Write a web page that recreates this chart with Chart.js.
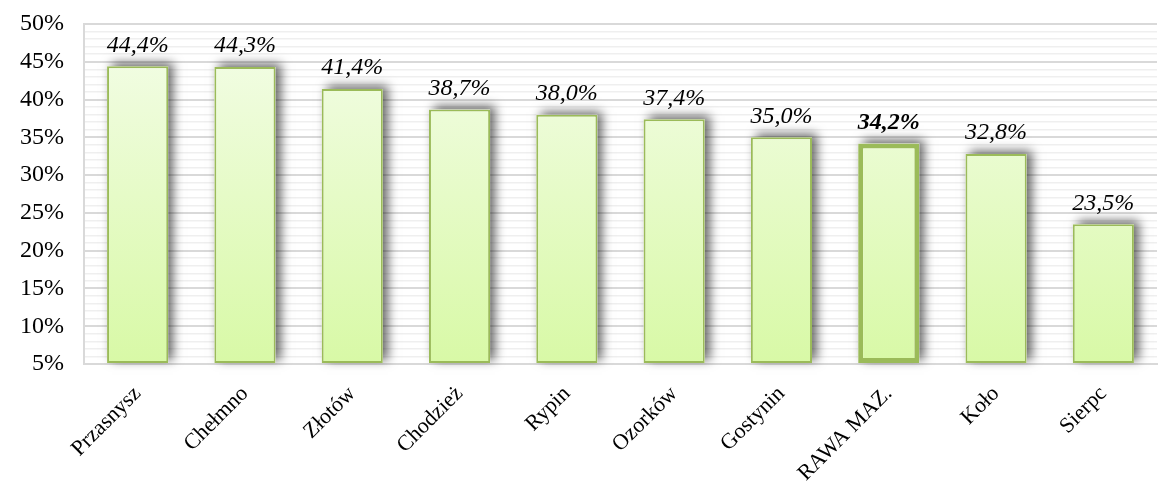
<!DOCTYPE html>
<html>
<head>
<meta charset="utf-8">
<script src="https://cdn.jsdelivr.net/npm/chart.js@4.4.0/dist/chart.umd.min.js"></script>
<style>
  html, body { margin: 0; padding: 0; background: #fff; }
  #wrap { width: 1160px; height: 481px; }
</style>
</head>
<body>
<div id="wrap"><canvas id="myChart"></canvas></div>
<script>
const miasta = ["Przasnysz", "Chełmno", "Złotów", "Chodzież", "Rypin", "Ozorków", "Gostynin", "RAWA MAZ.", "Koło", "Sierpc"];
const udzial = [44.4, 44.3, 41.4, 38.7, 38.0, 37.4, 35.0, 34.2, 32.8, 23.5];
const wyrozniony = "RAWA MAZ.";

const font = "'Liberation Serif', 'DejaVu Serif', serif";

function fmt(v) {
  return v.toFixed(1).replace(".", ",") + "%";
}

// cień pod słupkami - rysowany osobno, zanim pojawią się same słupki
const cien = {
  id: "cien",
  beforeDatasetsDraw(chart) {
    const ctx = chart.ctx;
    const meta = chart.getDatasetMeta(0);
    ctx.save();
    ctx.shadowColor = "rgba(0,0,0,0.6)";
    ctx.shadowBlur = 10;
    ctx.shadowOffsetX = 5;
    ctx.shadowOffsetY = -3;
    ctx.fillStyle = "#fff";
    meta.data.forEach((bar) => {
      const w = bar.width;
      ctx.fillRect(bar.x - w / 2, bar.y, w, bar.base - bar.y);
    });
    ctx.restore();
  },
};

// etykiety nad słupkami
const etykiety = {
  id: "etykiety",
  afterDatasetsDraw(chart) {
    const ctx = chart.ctx;
    const meta = chart.getDatasetMeta(0);
    ctx.save();
    ctx.fillStyle = "#000";
    ctx.textAlign = "center";
    ctx.textBaseline = "bottom";
    meta.data.forEach((bar, i) => {
      const bold = miasta[i] === wyrozniony;
      ctx.font = (bold ? "italic bold " : "italic ") + "24px " + font;
      ctx.fillText(fmt(udzial[i]), bar.x, bar.y - 9);
    });
    ctx.restore();
  },
};

const canvas = document.getElementById("myChart");

const myChart = new Chart(canvas, {
  type: "bar",
  data: {
    labels: miasta,
    datasets: [
      {
        data: udzial,
        backgroundColor: (c) => {
          const area = c.chart.chartArea;
          if (!area) return "#e6fbc4";
          const g = c.chart.ctx.createLinearGradient(0, area.top, 0, area.bottom);
          g.addColorStop(0, "#f4fde9");
          g.addColorStop(1, "#d8f9a6");
          return g;
        },
        borderColor: "#9bbb59",
        borderWidth: (c) => (miasta[c.dataIndex] === wyrozniony ? 5 : 2),
        borderSkipped: false,
        barPercentage: 0.57,
        categoryPercentage: 1,
        base: 5,
      },
    ],
  },
  options: {
    responsive: true,
    maintainAspectRatio: false,
    animation: false,
    layout: { padding: { top: 0, right: 3, left: 0, bottom: 0 } },
    plugins: {
      legend: { display: false },
      tooltip: { enabled: false },
    },
    scales: {
      x: {
        grid: { display: false },
        border: { color: "#d9d9d9", width: 2 },
        afterFit: (s) => {
          s.height = 117;
        },
        ticks: {
          color: "#000",
          font: { family: font, size: 22 },
          minRotation: 45,
          maxRotation: 45,
          padding: 9,
        },
      },
      y: {
        min: 5,
        max: 50,
        border: { color: "#d9d9d9", width: 2 },
        afterFit: (s) => {
          s.paddingTop = 24;
          s.paddingBottom = 12;
        },
        grid: {
          color: (c) => (c.tick.value % 5 === 0 ? "#d9d9d9" : "#efefef"),
          lineWidth: (c) => (c.tick.value % 5 === 0 ? 2 : 1.5),
          drawTicks: false,
        },
        ticks: {
          stepSize: 1,
          autoSkip: false,
          color: "#000",
          font: { family: font, size: 24 },
          padding: 20,
          callback: (v) => (v % 5 === 0 ? v + "%" : ""),
        },
      },
    },
  },
  plugins: [cien, etykiety],
});
</script>
</body>
</html>
